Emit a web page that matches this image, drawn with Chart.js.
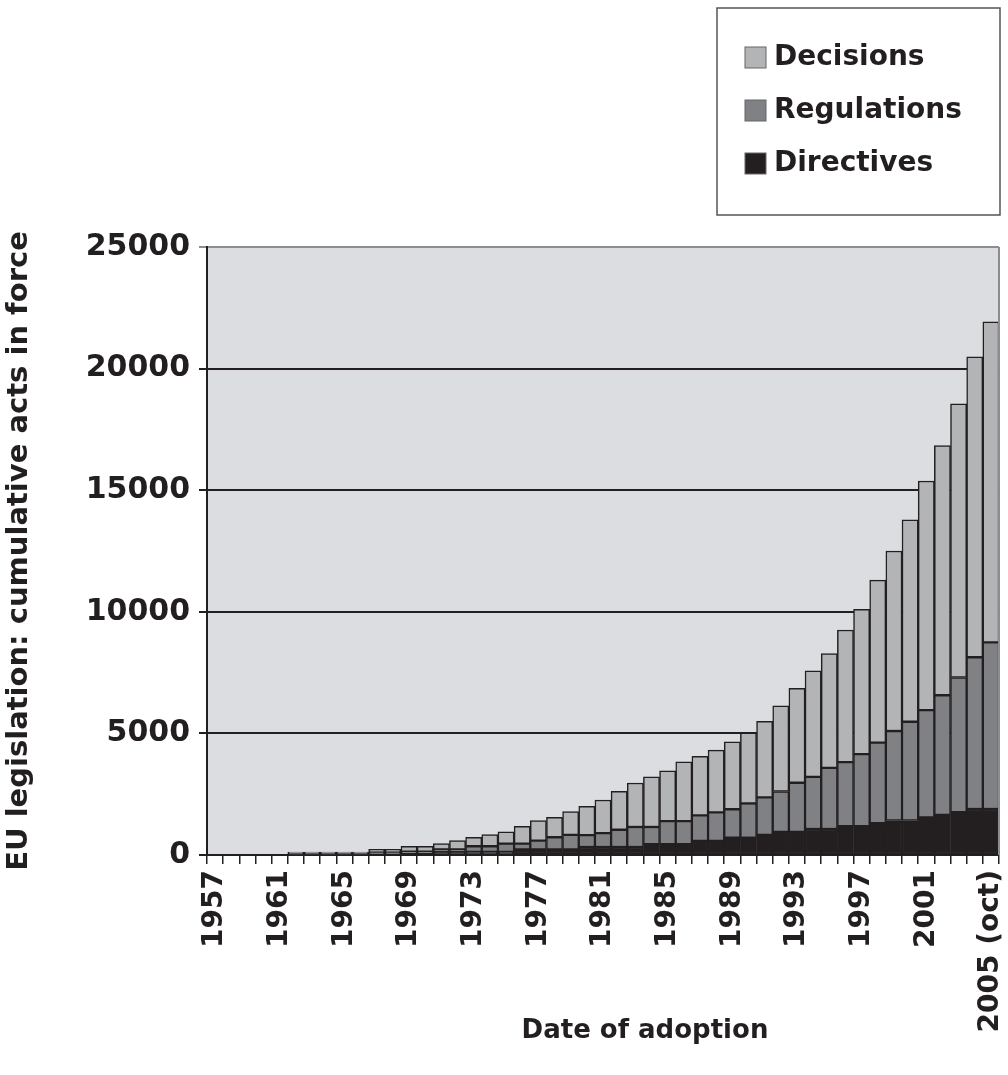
<!DOCTYPE html>
<html>
<head>
    <title>EU legislation</title>
    <script src="https://cdn.jsdelivr.net/npm/chart.js@4.4.0/dist/chart.umd.min.js"></script>
    <style>
        body { margin: 0; background: #fff; }
        #wrap { width: 1008px; height: 1075px; position: relative; }
    </style>
</head>
<body>
<div id="wrap"><canvas id="stage"></canvas></div>
<script>
    // years 1957 .. 2005 (oct)
    var years = ['1957','1958','1959','1960','1961','1962','1963','1964','1965','1966',
        '1967','1968','1969','1970','1971','1972','1973','1974','1975','1976',
        '1977','1978','1979','1980','1981','1982','1983','1984','1985','1986',
        '1987','1988','1989','1990','1991','1992','1993','1994','1995','1996',
        '1997','1998','1999','2000','2001','2002','2003','2004','2005 (oct)'];

    var directives = [0,0,0,0,0,20,20,20,20,20,
        40,40,50,50,120,120,130,130,130,230,
        230,230,230,330,330,330,330,450,450,450,
        580,580,710,710,830,950,950,1070,1070,1190,
        1190,1310,1420,1420,1550,1650,1760,1890,1890];

    var regulations = [0,0,0,0,0,30,30,30,30,30,
        70,70,90,90,110,110,230,230,340,240,
        360,500,600,490,570,710,820,700,940,940,
        1050,1170,1170,1410,1540,1660,2020,2140,2510,2630,
        2960,3310,3680,4060,4410,4920,5540,6240,6850];

    var decisions = [0,0,0,0,0,70,70,70,70,70,
        120,120,220,220,240,360,370,480,480,710,
        830,820,960,1180,1360,1580,1810,2060,2070,2440,
        2430,2560,2770,2900,3130,3520,3880,4360,4700,5430,
        5950,6680,7400,8300,9420,10260,11250,12350,13180];

    var yTicks = [0, 5000, 10000, 15000, 20000, 25000];

    var ink = '#231f20';
    var fontName = '"DejaVu Sans", Verdana, sans-serif';

    // grey plot background + grey right border
    var plotBack = {
        id: 'plotBack',
        beforeDraw: function(chart) {
            var a = chart.chartArea, c = chart.ctx;
            c.save();
            c.fillStyle = '#dcdde0';
            c.fillRect(a.left, a.top, a.right - a.left, a.bottom - a.top);
            c.restore();
        },
        afterDatasetsDraw: function(chart) {
            var a = chart.chartArea, c = chart.ctx;
            c.save();
            c.strokeStyle = '#8c8d90';
            c.lineWidth = 2;
            c.beginPath();
            c.moveTo(a.right, a.top);
            c.lineTo(a.right, a.bottom);
            c.stroke();
            c.restore();
        }
    };

    // boxed legend top right + x axis title
    var boxLegend = {
        id: 'boxLegend',
        afterDraw: function(chart) {
            var c = chart.ctx;
            c.save();
            c.fillStyle = '#fff';
            c.fillRect(717, 8, 283, 207);
            c.strokeStyle = '#555';
            c.lineWidth = 1.5;
            c.strokeRect(717, 8, 283, 207);
            var ds = chart.data.datasets.slice().reverse();
            c.font = 'bold 28px ' + fontName;
            c.textBaseline = 'middle';
            for (var i = 0; i < ds.length; i++) {
                var y = 57 + i * 53;
                c.fillStyle = ds[i].backgroundColor;
                c.fillRect(745, y - 10, 21, 21);
                c.strokeStyle = '#666';
                c.lineWidth = 1;
                c.strokeRect(745, y - 10, 21, 21);
                c.fillStyle = ink;
                c.fillText(ds[i].label, 774, y + 1);
            }
            c.font = 'bold 26px ' + fontName;
            c.textAlign = 'center';
            c.fillText('Date of adoption', 645, 1031);
            c.restore();
        }
    };

    var mydata = {
        labels: years,
        datasets: [
            { label: 'Directives', data: directives, backgroundColor: '#231f20' },
            { label: 'Regulations', data: regulations, backgroundColor: '#808184' },
            { label: 'Decisions', data: decisions, backgroundColor: '#b3b4b6' }
        ]
    };
    mydata.datasets.forEach(function(d) {
        d.borderColor = ink;
        d.borderWidth = 1.5;
        d.borderSkipped = false;
        d.barPercentage = 1;
        d.categoryPercentage = 1;
    });

    var options = {
        responsive: true,
        maintainAspectRatio: false,
        animation: false,
        layout: { padding: { left: 0, right: 9, top: 247, bottom: 0 } },
        plugins: {
            legend: { display: false },
            tooltip: { enabled: false }
        },
        scales: {
            x: {
                stacked: true,
                grid: { offset: true, drawOnChartArea: false, color: ink, lineWidth: 1.5, tickLength: 9 },
                border: { display: true, color: ink, width: 2 },
                ticks: {
                    autoSkip: false,
                    minRotation: 90,
                    maxRotation: 90,
                    padding: 6,
                    color: ink,
                    font: { family: fontName, size: 28, weight: 'bold' },
                    callback: function(v, i) { return i % 4 === 0 ? years[i] : ''; }
                },
                afterFit: function(scale) {
                    scale.height = 220;
                    scale.paddingLeft = 0;
                    scale.paddingRight = 0;
                }
            },
            y: {
                stacked: true,
                min: 0,
                max: 25000,
                afterBuildTicks: function(scale) {
                    scale.ticks = yTicks.map(function(v) { return { value: v }; });
                },
                grid: {
                    color: function(ctx) { return ctx.tick && ctx.tick.value === 25000 ? '#8c8d90' : ink; },
                    lineWidth: 2,
                    tickLength: 8
                },
                border: { display: true, color: ink, width: 2 },
                ticks: {
                    padding: 9,
                    color: ink,
                    font: { family: fontName, size: 30, weight: 'bold' },
                    callback: function(v) { return String(v); }
                },
                title: {
                    display: true,
                    text: 'EU legislation: cumulative acts in force',
                    color: ink,
                    font: { family: fontName, size: 29, weight: 'bold' },
                    padding: { top: 2, bottom: 0 }
                },
                afterFit: function(scale) {
                    scale.width = 207;
                    scale.paddingTop = 0;
                    scale.paddingBottom = 0;
                }
            }
        }
    };

    var canvas = document.getElementById('stage');
    var chart = new Chart(canvas, {
        type: 'bar',
        data: mydata,
        options: options,
        plugins: [plotBack, boxLegend]
    });
</script>
</body>
</html>
